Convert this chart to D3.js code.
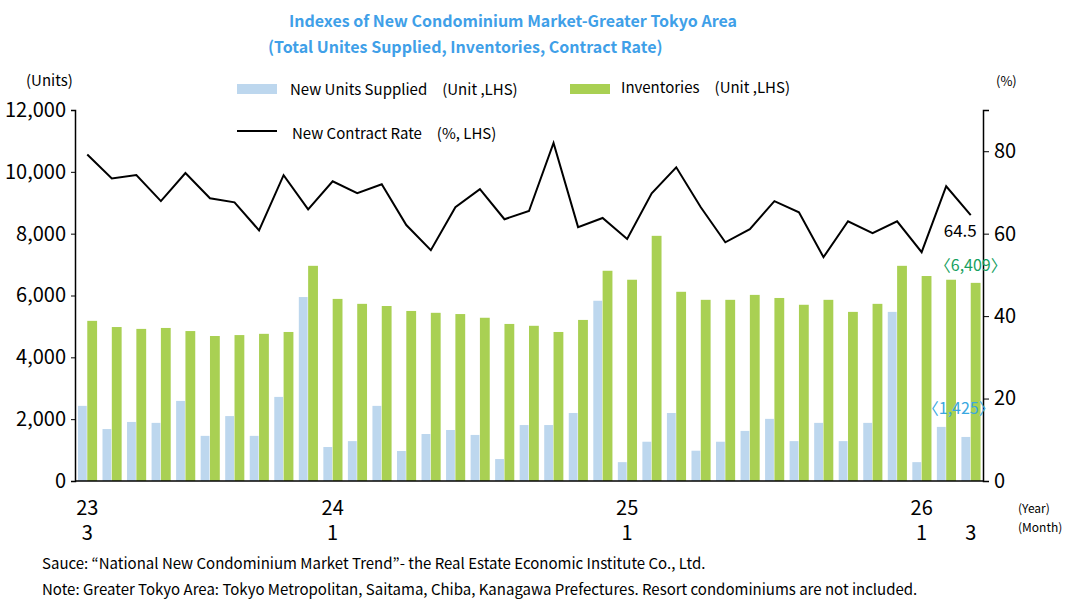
<!DOCTYPE html>
<html>
<head>
<meta charset="UTF-8">
<script src="https://d3js.org/d3.v7.min.js"></script>
<style>
body{margin:0;background:#fff;}
text{font-family:"Noto Sans CJK JP","Noto Sans",sans-serif;}
</style>
</head>
<body>
<svg id="chart" width="1086" height="613"></svg>
<script>
// 2023/3 .. 2026/3
let supplied = [2430,1680,1910,1880,2590,1460,2100,1460,2720,5950,1100,1290,2430,970,1520,1650,1490,710,1810,
    1810,2200,5830,610,1270,2200,980,1270,1620,2010,1290,1880,1290,1880,5470,610,1750,1425]
let inventories = [5180,4980,4920,4950,4850,4690,4720,4760,4820,6960,5890,5730,5660,5500,5440,5400,5280,5080,5020,
    4820,5210,6800,6510,7930,6120,5860,5860,6020,5920,5700,5860,5470,5730,6960,6630,6510,6409]
let rate = [79.2,73.4,74.2,67.9,74.7,68.6,67.6,60.8,74.2,65.9,72.7,69.8,72.0,62.1,56.0,66.4,70.8,63.5,65.5,
    82,61.6,63.8,58.7,69.8,76.1,66.4,57.9,61.1,67.9,65.2,54.3,63.0,60.1,63.0,55.5,71.5,64.5]
let xLabels = {0:["23","3"],10:["24","1"],22:["25","1"],34:["26","1"],36:["","3"]}

let svg = d3.select("#chart")
let pLeft = 75, pRight = 983, pTop = 110, pBottom = 481

let x = d3.scaleBand().domain(d3.range(supplied.length)).range([pLeft,pRight]).padding(0)
let yL = d3.scaleLinear().domain([0,12000]).range([pBottom,pTop])
let yR = d3.scaleLinear().domain([0,90]).range([pBottom,pTop])
let bw = x.bandwidth()*0.4

// bars
svg.selectAll(".sup").data(supplied).enter().append("rect")
    .attr("x",(d,i)=>x(i)+x.bandwidth()/2-bw+0.5)
    .attr("width",bw-1).attr("y",d=>yL(d)).attr("height",d=>pBottom-yL(d))
    .attr("fill","#bdd7ee")
svg.selectAll(".inv").data(inventories).enter().append("rect")
    .attr("x",(d,i)=>x(i)+x.bandwidth()/2)
    .attr("width",bw).attr("y",d=>yL(d)).attr("height",d=>pBottom-yL(d))
    .attr("fill","#a9d053")

// line
svg.append("path").datum(rate)
    .attr("d",d3.line().x((d,i)=>x(i)+x.bandwidth()/2).y(d=>yR(d)))
    .attr("fill","none").attr("stroke","#000").attr("stroke-width",2)

// axes
let axL = svg.append("g").attr("transform",`translate(${pLeft},0)`)
    .call(d3.axisLeft(yL).tickValues(d3.range(0,12001,2000)).tickFormat(d3.format(",")).tickSize(4))
axL.selectAll("text").attr("font-size",20).attr("fill","#000").attr("dx",-2)
let axR = svg.append("g").attr("transform",`translate(${pRight},0)`)
    .call(d3.axisRight(yR).tickValues([0,20,40,60,80]).tickSize(6))
axR.selectAll("text").attr("font-size",20).attr("fill","#000").attr("dx",2)
svg.selectAll(".domain").attr("stroke","#000").attr("stroke-width",1.5)
svg.append("line").attr("x1",pLeft).attr("x2",pRight).attr("y1",pBottom).attr("y2",pBottom)
    .attr("stroke","#000").attr("stroke-width",1.5)

// x labels
Object.entries(xLabels).forEach(([i,l])=>{
    let cx = x(+i)+x.bandwidth()/2
    svg.append("text").attr("x",cx).attr("y",515).attr("text-anchor","middle").attr("font-size",20).text(l[0])
    svg.append("text").attr("x",cx).attr("y",540).attr("text-anchor","middle").attr("font-size",20).text(l[1])
})
svg.append("text").attr("x",1018).attr("y",513).attr("font-size",12).text("(Year)")
svg.append("text").attr("x",1018).attr("y",532).attr("font-size",12).text("(Month)")

// titles
svg.append("text").attr("x",513).attr("y",27).attr("text-anchor","middle").attr("font-size",16)
    .attr("font-weight","bold").attr("fill","#3fa0e8").text("Indexes of New Condominium Market-Greater Tokyo Area")
svg.append("text").attr("x",268).attr("y",53).attr("font-size",16)
    .attr("font-weight","bold").attr("fill","#3fa0e8").text("(Total Unites Supplied, Inventories, Contract Rate)")
svg.append("text").attr("x",26).attr("y",86).attr("font-size",15).text("(Units)")
svg.append("text").attr("x",996).attr("y",86).attr("font-size",13).text("(%)")

// legend
svg.append("rect").attr("x",237).attr("y",84).attr("width",40).attr("height",10).attr("fill","#bdd7ee")
svg.append("text").attr("x",290).attr("y",95).attr("font-size",15).text("New Units Supplied　(Unit ,LHS)")
svg.append("rect").attr("x",570).attr("y",84).attr("width",40).attr("height",10).attr("fill","#a9d053")
svg.append("text").attr("x",621).attr("y",93).attr("font-size",15).text("Inventories　(Unit ,LHS)")
svg.append("line").attr("x1",237).attr("x2",277).attr("y1",131).attr("y2",131).attr("stroke","#000").attr("stroke-width",2)
svg.append("text").attr("x",292).attr("y",139).attr("font-size",15).text("New Contract Rate　(%, LHS)")

// annotations
let last = rate.length-1
svg.append("text").attr("x",x(last)+x.bandwidth()/2-27).attr("y",yR(rate[last])+22).attr("font-size",17).text("64.5")
svg.append("text").attr("x",x(last)+x.bandwidth()/2+36).attr("y",yL(inventories[last])-12)
    .attr("text-anchor","end").attr("font-size",16).attr("fill","#17a060").text("〈6,409〉")
svg.append("text").attr("x",x(last)+x.bandwidth()/2+24).attr("y",yL(supplied[last])-23)
    .attr("text-anchor","end").attr("font-size",16).attr("fill","#3aa8e0").text("〈1,425〉")

// notes
svg.append("text").attr("x",42).attr("y",569).attr("font-size",15).text("Sauce: “National New Condominium Market Trend”- the Real Estate Economic Institute Co., Ltd.")
svg.append("text").attr("x",42).attr("y",595).attr("font-size",15).text("Note: Greater Tokyo Area: Tokyo Metropolitan, Saitama, Chiba, Kanagawa Prefectures. Resort condominiums are not included.")
</script>
</body>
</html>
